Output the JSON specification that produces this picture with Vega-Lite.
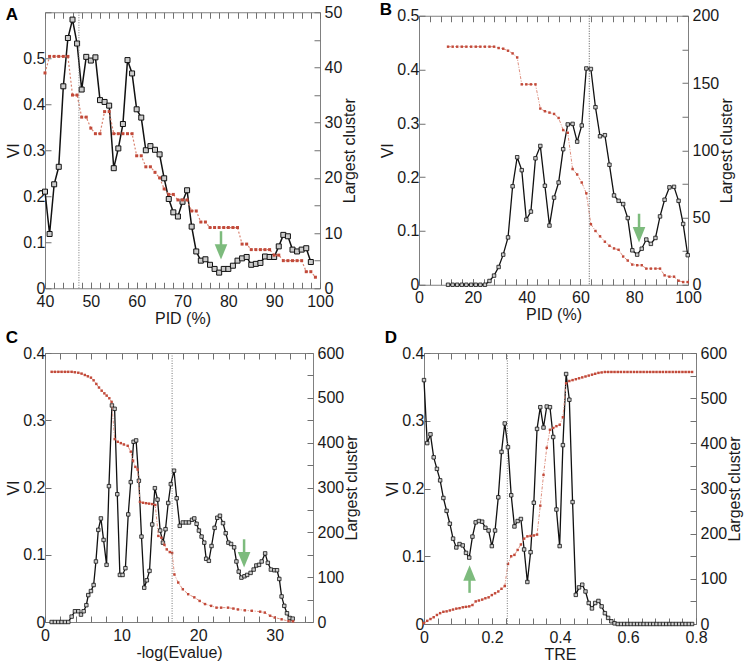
{
  "$schema": "https://vega.github.io/schema/vega-lite/v6.json",
  "padding": {"left": 5, "top": 0, "right": 0, "bottom": 0},
  "spacing": 1,
  "config": {
    "font": "Liberation Sans",
    "view": {"stroke": "#808080", "strokeWidth": 1},
    "axis": {"grid": false, "domain": false, "ticks": true, "tickColor": "#707070", "tickWidth": 1, "tickSize": 6, "labelFontSize": 16, "titleFontSize": 16, "titleFontWeight": "normal", "labelColor": "#1a1a1a", "titleColor": "#1a1a1a", "labelFlush": false, "labelOverlap": false, "labelBound": false, "labelPadding": 4, "titlePadding": 1},
    "title": {"fontSize": 17, "fontWeight": "bold", "anchor": "start", "frame": "bounds", "baseline": "alphabetic", "color": "#000"}
  },
  "datasets": {
    "A_vi": [
      {"x":40,"vi":0.210},{"x":41,"vi":0.118},{"x":42,"vi":0.226},{"x":43,"vi":0.264},{"x":44,"vi":0.439},{"x":45,"vi":0.544},{"x":46,"vi":0.584},{"x":47,"vi":0.532},{"x":48,"vi":0.432},{"x":49,"vi":0.503},
      {"x":50,"vi":0.495},{"x":51,"vi":0.502},{"x":52,"vi":0.409},{"x":53,"vi":0.405},{"x":54,"vi":0.397},{"x":55,"vi":0.261},{"x":56,"vi":0.304},{"x":57,"vi":0.357},{"x":58,"vi":0.496},{"x":59,"vi":0.467},
      {"x":60,"vi":0.389},{"x":61,"vi":0.371},{"x":62,"vi":0.300},{"x":63,"vi":0.309},{"x":64,"vi":0.301},{"x":65,"vi":0.291},{"x":66,"vi":0.239},{"x":67,"vi":0.194},{"x":68,"vi":0.165},{"x":69,"vi":0.156},
      {"x":70,"vi":0.188},{"x":71,"vi":0.213},{"x":72,"vi":0.134},{"x":73,"vi":0.080},{"x":74,"vi":0.060},{"x":75,"vi":0.063},{"x":76,"vi":0.051},{"x":77,"vi":0.042},{"x":78,"vi":0.034},{"x":79,"vi":0.042},
      {"x":80,"vi":0.042},{"x":81,"vi":0.049},{"x":82,"vi":0.060},{"x":83,"vi":0.065},{"x":84,"vi":0.068},{"x":85,"vi":0.051},{"x":86,"vi":0.053},{"x":87,"vi":0.055},{"x":88,"vi":0.069},{"x":89,"vi":0.068},
      {"x":90,"vi":0.068},{"x":91,"vi":0.091},{"x":92,"vi":0.116},{"x":93,"vi":0.113},{"x":94,"vi":0.084},{"x":95,"vi":0.080},{"x":96,"vi":0.084},{"x":97,"vi":0.087},{"x":98,"vi":0.057}
    ],
    "A_lc": [
      {"x":40,"lc":39},{"x":41,"lc":42},{"x":42,"lc":42},{"x":43,"lc":42},{"x":44,"lc":42},{"x":45,"lc":42},{"x":46,"lc":35},{"x":47,"lc":35},{"x":48,"lc":31},{"x":49,"lc":31},
      {"x":50,"lc":29},{"x":51,"lc":28},{"x":52,"lc":28},{"x":53,"lc":32},{"x":54,"lc":32},{"x":55,"lc":28},{"x":56,"lc":28},{"x":57,"lc":28},{"x":58,"lc":28},{"x":59,"lc":28},
      {"x":60,"lc":24},{"x":61,"lc":24},{"x":62,"lc":22},{"x":63,"lc":22},{"x":64,"lc":21},{"x":65,"lc":20},{"x":66,"lc":18},{"x":67,"lc":17},{"x":68,"lc":17},{"x":69,"lc":16},
      {"x":70,"lc":16},{"x":71,"lc":16},{"x":72,"lc":14},{"x":73,"lc":14},{"x":74,"lc":12},{"x":75,"lc":12},{"x":76,"lc":11},{"x":77,"lc":11},{"x":78,"lc":11},{"x":79,"lc":11},
      {"x":80,"lc":11},{"x":81,"lc":11},{"x":82,"lc":11},{"x":83,"lc":8},{"x":84,"lc":8},{"x":85,"lc":7},{"x":86,"lc":7},{"x":87,"lc":7},{"x":88,"lc":7},{"x":89,"lc":7},
      {"x":90,"lc":6},{"x":91,"lc":6},{"x":92,"lc":5},{"x":93,"lc":5},{"x":94,"lc":5},{"x":95,"lc":5},{"x":96,"lc":5},{"x":97,"lc":3},{"x":98,"lc":3},{"x":99,"lc":2}
    ],
    "B": [
      {"x":10.8,"vi":0,"lc":177},{"x":12.5,"vi":0,"lc":177},{"x":14.2,"vi":0,"lc":177},{"x":15.9,"vi":0,"lc":177},{"x":17.6,"vi":0,"lc":177},{"x":19.4,"vi":0,"lc":177},{"x":21.1,"vi":0,"lc":177},{"x":22.8,"vi":0,"lc":177},{"x":24.5,"vi":0,"lc":177},{"x":26.2,"vi":0.007,"lc":177},
      {"x":27.9,"vi":0.017,"lc":177},{"x":29.6,"vi":0.033,"lc":176},{"x":31.3,"vi":0.056,"lc":175.5},{"x":33.1,"vi":0.088,"lc":174},{"x":34.8,"vi":0.183,"lc":172},{"x":36.5,"vi":0.237,"lc":169},{"x":38.2,"vi":0.213,"lc":149},{"x":39.9,"vi":0.121,"lc":149},{"x":41.6,"vi":0.136,"lc":149},{"x":43.3,"vi":0.235,"lc":149},
      {"x":45.1,"vi":0.258,"lc":131},{"x":46.8,"vi":0.184,"lc":129},{"x":48.5,"vi":0.110,"lc":128},{"x":50.2,"vi":0.162,"lc":127},{"x":51.9,"vi":0.190,"lc":124},{"x":53.6,"vi":0.252,"lc":115},{"x":55.3,"vi":0.298,"lc":113},{"x":57.1,"vi":0.299,"lc":86},{"x":58.8,"vi":0.266,"lc":82},{"x":60.5,"vi":0.296,"lc":76},
      {"x":62.2,"vi":0.402,"lc":68},{"x":63.9,"vi":0.401,"lc":45},{"x":65.6,"vi":0.330,"lc":40},{"x":67.3,"vi":0.276,"lc":36},{"x":69.1,"vi":0.278,"lc":32},{"x":70.8,"vi":0.223,"lc":29},{"x":72.5,"vi":0.166,"lc":27},{"x":74.2,"vi":0.156,"lc":26},{"x":75.9,"vi":0.150,"lc":21},{"x":77.6,"vi":0.124,"lc":18},
      {"x":79.3,"vi":0.064,"lc":15},{"x":81.1,"vi":0.056,"lc":14.5},{"x":82.8,"vi":0.067,"lc":14.5},{"x":84.5,"vi":0.084,"lc":12},{"x":86.2,"vi":0.076,"lc":12},{"x":87.9,"vi":0.087,"lc":12},{"x":89.6,"vi":0.127,"lc":12},{"x":91.3,"vi":0.158,"lc":7},{"x":93.1,"vi":0.181,"lc":6},{"x":94.8,"vi":0.182,"lc":6},
      {"x":96.5,"vi":0.156,"lc":3},{"x":98.2,"vi":0.113,"lc":2},{"x":99.9,"vi":0.055,"lc":2}
    ],
    "C_vi": [
      {"x":0.87,"vi":0},{"x":1.3,"vi":0},{"x":1.74,"vi":0},{"x":2.17,"vi":0},{"x":2.61,"vi":0},{"x":3.04,"vi":0},{"x":3.48,"vi":0.008},{"x":3.91,"vi":0.016},{"x":4.35,"vi":0.016},{"x":4.7,"vi":0.011},
      {"x":5.05,"vi":0.016},{"x":5.4,"vi":0.025},{"x":5.65,"vi":0.040},{"x":6.0,"vi":0.046},{"x":6.35,"vi":0.055},{"x":6.65,"vi":0.090},{"x":6.96,"vi":0.137},{"x":7.3,"vi":0.154},{"x":7.65,"vi":0.122},{"x":8.04,"vi":0.085},
      {"x":8.35,"vi":0.202},{"x":8.74,"vi":0.322},{"x":9.09,"vi":0.317},{"x":9.44,"vi":0.190},{"x":9.78,"vi":0.070},{"x":10.13,"vi":0.070},{"x":10.5,"vi":0.080},{"x":10.87,"vi":0.160},{"x":11.2,"vi":0.208},{"x":11.57,"vi":0.268},
      {"x":11.9,"vi":0.270},{"x":12.26,"vi":0.210},{"x":12.6,"vi":0.127},{"x":12.96,"vi":0.051},{"x":13.3,"vi":0.062},{"x":13.65,"vi":0.076},{"x":14.0,"vi":0.145},{"x":14.35,"vi":0.199},{"x":14.7,"vi":0.182},{"x":15.04,"vi":0.136},
      {"x":15.4,"vi":0.118},{"x":15.74,"vi":0.138},{"x":16.09,"vi":0.177},{"x":16.43,"vi":0.205},{"x":16.85,"vi":0.225},{"x":17.2,"vi":0.184},{"x":17.6,"vi":0.143},{"x":18.0,"vi":0.148},{"x":18.4,"vi":0.148},{"x":18.8,"vi":0.148},
      {"x":19.2,"vi":0.152},{"x":19.5,"vi":0.154},{"x":19.8,"vi":0.146},{"x":20.1,"vi":0.136},{"x":20.45,"vi":0.127},{"x":20.8,"vi":0.118},{"x":21.05,"vi":0.094},{"x":21.4,"vi":0.091},{"x":21.75,"vi":0.113},{"x":22.15,"vi":0.140},
      {"x":22.5,"vi":0.155},{"x":22.85,"vi":0.158},{"x":23.25,"vi":0.147},{"x":23.6,"vi":0.132},{"x":23.95,"vi":0.118},{"x":24.3,"vi":0.116},{"x":24.7,"vi":0.111},{"x":25.0,"vi":0.090},{"x":25.3,"vi":0.075},{"x":25.65,"vi":0.066},
      {"x":26.05,"vi":0.068},{"x":26.4,"vi":0.070},{"x":26.85,"vi":0.073},{"x":27.25,"vi":0.078},{"x":27.6,"vi":0.084},{"x":27.95,"vi":0.085},{"x":28.3,"vi":0.090},{"x":28.75,"vi":0.102},{"x":29.1,"vi":0.088},{"x":29.5,"vi":0.078},
      {"x":29.95,"vi":0.077},{"x":30.3,"vi":0.077},{"x":30.6,"vi":0.064},{"x":30.9,"vi":0.038},{"x":31.25,"vi":0.024},{"x":31.6,"vi":0.013},{"x":31.95,"vi":0.006},{"x":32.35,"vi":0.005}
    ],
    "C_lc": [
      {"x":0.87,"lc":558},{"x":1.3,"lc":558},{"x":1.74,"lc":558},{"x":2.17,"lc":558},{"x":2.61,"lc":558},{"x":3.04,"lc":558},{"x":3.48,"lc":558},{"x":3.91,"lc":557},{"x":4.35,"lc":556},{"x":4.78,"lc":554},
      {"x":5.2,"lc":551},{"x":5.6,"lc":548},{"x":6.0,"lc":545},{"x":6.35,"lc":539},{"x":6.7,"lc":531},{"x":7.05,"lc":523},{"x":7.4,"lc":516},{"x":7.75,"lc":510},{"x":8.05,"lc":505},{"x":8.4,"lc":499},
      {"x":8.7,"lc":491},{"x":9.1,"lc":408},{"x":9.5,"lc":402},{"x":9.9,"lc":399},{"x":10.3,"lc":396},{"x":10.8,"lc":393},{"x":11.2,"lc":380},{"x":11.5,"lc":360},{"x":11.8,"lc":346},{"x":12.1,"lc":340},
      {"x":12.4,"lc":268},{"x":12.8,"lc":266},{"x":13.2,"lc":265},{"x":13.6,"lc":264},{"x":14.0,"lc":263},{"x":14.4,"lc":261},{"x":14.8,"lc":192},{"x":15.2,"lc":188},{"x":15.6,"lc":172},{"x":15.9,"lc":162},
      {"x":16.3,"lc":156},{"x":16.6,"lc":154},{"x":16.9,"lc":106},{"x":17.4,"lc":88},{"x":18.0,"lc":73},{"x":18.7,"lc":62},{"x":19.5,"lc":55},{"x":20.2,"lc":47},{"x":20.9,"lc":40},{"x":21.7,"lc":36},
      {"x":22.4,"lc":32},{"x":23.0,"lc":32},{"x":23.9,"lc":32},{"x":24.6,"lc":30},{"x":25.2,"lc":28},{"x":26.1,"lc":26},{"x":27.0,"lc":25},{"x":28.1,"lc":23},{"x":28.7,"lc":21},{"x":29.4,"lc":14},
      {"x":30.0,"lc":10},{"x":30.9,"lc":6},{"x":31.8,"lc":2},{"x":32.4,"lc":1.5}
    ],
    "D": [
      {"x":0,"vi":0.360,"lc":2},{"x":0.0095,"vi":0.267,"lc":7},{"x":0.019,"vi":0.280,"lc":11},{"x":0.0285,"vi":0.246,"lc":15},{"x":0.038,"vi":0.229,"lc":20},{"x":0.0475,"vi":0.212,"lc":24},{"x":0.057,"vi":0.186,"lc":27},{"x":0.0665,"vi":0.167,"lc":28},{"x":0.076,"vi":0.148,"lc":30},{"x":0.0855,"vi":0.126,"lc":32},
      {"x":0.095,"vi":0.113,"lc":34},{"x":0.1045,"vi":0.118,"lc":35},{"x":0.114,"vi":0.116,"lc":37},{"x":0.1235,"vi":0.105,"lc":38},{"x":0.133,"vi":0.098,"lc":39},{"x":0.1425,"vi":0.129,"lc":42},{"x":0.152,"vi":0.150,"lc":50},{"x":0.1615,"vi":0.152,"lc":52},{"x":0.171,"vi":0.151,"lc":54},{"x":0.1805,"vi":0.142,"lc":57},
      {"x":0.19,"vi":0.138,"lc":59},{"x":0.1995,"vi":0.115,"lc":64},{"x":0.209,"vi":0.138,"lc":68},{"x":0.2185,"vi":0.187,"lc":72},{"x":0.228,"vi":0.254,"lc":78},{"x":0.2375,"vi":0.296,"lc":84},{"x":0.247,"vi":0.261,"lc":133},{"x":0.2565,"vi":0.190,"lc":150},{"x":0.266,"vi":0.144,"lc":153},{"x":0.2755,"vi":0.152,"lc":164},
      {"x":0.285,"vi":0.155,"lc":176},{"x":0.2945,"vi":0.110,"lc":189},{"x":0.304,"vi":0.062,"lc":194},{"x":0.3135,"vi":0.106,"lc":195},{"x":0.323,"vi":0.179,"lc":196},{"x":0.3325,"vi":0.288,"lc":198},{"x":0.342,"vi":0.320,"lc":262},{"x":0.3515,"vi":0.290,"lc":330},{"x":0.361,"vi":0.321,"lc":390},{"x":0.3705,"vi":0.320,"lc":430},
      {"x":0.38,"vi":0.276,"lc":434},{"x":0.3895,"vi":0.169,"lc":438},{"x":0.399,"vi":0.115,"lc":441},{"x":0.4085,"vi":0.264,"lc":458},{"x":0.418,"vi":0.369,"lc":533},{"x":0.4275,"vi":0.331,"lc":538},{"x":0.437,"vi":0.180,"lc":540},{"x":0.4465,"vi":0.043,"lc":542},{"x":0.456,"vi":0.054,"lc":544},{"x":0.4655,"vi":0.058,"lc":546},
      {"x":0.475,"vi":0.048,"lc":548},{"x":0.4845,"vi":0.031,"lc":550},{"x":0.494,"vi":0.023,"lc":552},{"x":0.5035,"vi":0.031,"lc":554},{"x":0.513,"vi":0.034,"lc":556},{"x":0.5225,"vi":0.026,"lc":557},{"x":0.532,"vi":0.016,"lc":558},{"x":0.5415,"vi":0.009,"lc":558},{"x":0.551,"vi":0.004,"lc":558},{"x":0.5605,"vi":0.001,"lc":558},
      {"x":0.57,"vi":0,"lc":558},{"x":0.5795,"vi":0,"lc":558},{"x":0.589,"vi":0,"lc":558},{"x":0.5985,"vi":0,"lc":558},{"x":0.608,"vi":0,"lc":558},{"x":0.6175,"vi":0,"lc":558},{"x":0.627,"vi":0,"lc":558},{"x":0.6365,"vi":0,"lc":558},{"x":0.646,"vi":0,"lc":558},{"x":0.6555,"vi":0,"lc":558},
      {"x":0.665,"vi":0,"lc":558},{"x":0.6745,"vi":0,"lc":558},{"x":0.684,"vi":0,"lc":558},{"x":0.6935,"vi":0,"lc":558},{"x":0.703,"vi":0,"lc":558},{"x":0.7125,"vi":0,"lc":558},{"x":0.722,"vi":0,"lc":558},{"x":0.7315,"vi":0,"lc":558},{"x":0.741,"vi":0,"lc":558},{"x":0.7505,"vi":0,"lc":558},
      {"x":0.76,"vi":0,"lc":558},{"x":0.7695,"vi":0,"lc":558},{"x":0.779,"vi":0,"lc":558},{"x":0.7885,"vi":0,"lc":558}
    ]
  },
  "vconcat": [
    {
      "hconcat": [
        {
          "width": 275, "height": 276,
          "title": {"text": "A", "offset": -20},
          "layer": [
            {"layer": [
              {"data": {"name": "A_vi"},
               "mark": {"type": "line", "color": "#111", "strokeWidth": 1.5, "point": {"shape": "square", "size": 25, "filled": true, "fill": "#cccccc", "stroke": "#111", "strokeWidth": 1}},
               "encoding": {
                 "x": {"field": "x", "type": "quantitative", "scale": {"domain": [40, 100], "nice": false, "zero": false},
                   "axis": {"orient": "bottom", "offset": -6, "title": "PID (%)", "labelPadding": 5, "titlePadding": 1, "values": [40,50,60,70,80,90,100], "labelExpr": "format(datum.value, '.2~f')"}},
                 "y": {"field": "vi", "type": "quantitative", "scale": {"domain": [0, 0.6], "nice": false},
                   "axis": {"orient": "left", "offset": -6, "labelPadding": 0, "title": "VI", "values": [0,0.05,0.1,0.15,0.2,0.25,0.3,0.35,0.4,0.45,0.5,0.55,0.6],
                     "labelExpr": "abs(datum.value*10 - round(datum.value*10)) < 0.001 && datum.value < 0.55 ? format(datum.value, '.2~f') : ''"}}
               }},
              {"data": {"values": [{"x": 78.4, "top": 0.124, "base": 0.094}]}, "mark": {"type": "rule", "color": "#7dbb7d", "strokeWidth": 2.5}, "encoding": {"x": {"field": "x", "type": "quantitative"}, "y": {"field": "top", "type": "quantitative"}, "y2": {"field": "base"}}},
              {"data": {"values": [{"x": 78.4, "head": 0.079}]}, "mark": {"type": "point", "shape": "M-0.9,-1.1L0.9,-1.1L0,1.1Z", "size": 196, "filled": true, "color": "#7dbb7d", "opacity": 1}, "encoding": {"x": {"field": "x", "type": "quantitative"}, "y": {"field": "head", "type": "quantitative"}}}
            ]},
            {"data": {"name": "A_lc"},
             "mark": {"type": "line", "color": "#d9826f", "strokeWidth": 1.2, "strokeDash": [2, 2], "point": {"shape": "square", "size": 9, "filled": true, "color": "#c24a3a"}},
             "encoding": {
               "x": {"field": "x", "type": "quantitative", "scale": {"domain": [40, 100], "nice": false, "zero": false},
                 "axis": {"orient": "top", "offset": -6, "title": null, "labels": false, "values": [40,42,44,46,48,50,52,54,56,58,60,62,64,66,68,70,72,74,76,78,80,82,84,86,88,90,92,94,96,98,100]}},
               "y": {"field": "lc", "type": "quantitative", "scale": {"domain": [0, 50], "nice": false},
                 "axis": {"orient": "right", "offset": -6, "title": "Largest cluster", "titlePadding": 0, "titleAngle": 270, "titleBaseline": "top", "values": [0,5,10,15,20,25,30,35,40,45,50],
                   "labelExpr": "datum.value % 10 == 0 ? format(datum.value, '.2~f') : ''"}}
             }},
            {"data": {"values": [{"x": 47.4}]}, "mark": {"type": "rule", "color": "#777", "strokeDash": [1, 1.5], "strokeWidth": 1},
             "encoding": {"x": {"field": "x", "type": "quantitative", "scale": {"domain": [40, 100], "nice": false, "zero": false},
               "axis": {"orient": "bottom", "offset": -6, "title": null, "labels": false, "values": [40,42,44,46,48,50,52,54,56,58,60,62,64,66,68,70,72,74,76,78,80,82,84,86,88,90,92,94,96,98,100]}}}}
          ],
          "resolve": {"scale": {"y": "independent"}, "axis": {"x": "independent", "y": "independent"}}
        },
        {
          "width": 269, "height": 269,
          "title": {"text": "B", "offset": -11},
          "layer": [
            {"layer": [
              {"data": {"name": "B"},
               "mark": {"type": "line", "color": "#111", "strokeWidth": 1.3, "point": {"shape": "square", "size": 12, "filled": true, "fill": "#cccccc", "stroke": "#111", "strokeWidth": 0.8}},
               "encoding": {
                 "x": {"field": "x", "type": "quantitative", "scale": {"domain": [0, 100], "nice": false},
                   "axis": {"orient": "bottom", "offset": -6, "title": "PID (%)", "labelPadding": 5, "titlePadding": 1, "values": [0,20,40,60,80,100], "labelExpr": "format(datum.value, '.2~f')"}},
                 "y": {"field": "vi", "type": "quantitative", "scale": {"domain": [0, 0.5], "nice": false},
                   "axis": {"orient": "left", "offset": -6, "labelPadding": 0, "title": "VI", "values": [0,0.05,0.1,0.15,0.2,0.25,0.3,0.35,0.4,0.45,0.5],
                     "labelExpr": "abs(datum.value*10 - round(datum.value*10)) < 0.001 ? format(datum.value, '.2~f') : ''"}}
               }},
              {"data": {"values": [{"x": 81.8, "top": 0.132, "base": 0.106}]}, "mark": {"type": "rule", "color": "#7dbb7d", "strokeWidth": 2.5}, "encoding": {"x": {"field": "x", "type": "quantitative"}, "y": {"field": "top", "type": "quantitative"}, "y2": {"field": "base"}}},
              {"data": {"values": [{"x": 81.8, "head": 0.093}]}, "mark": {"type": "point", "shape": "M-0.9,-1.1L0.9,-1.1L0,1.1Z", "size": 196, "filled": true, "color": "#7dbb7d", "opacity": 1}, "encoding": {"x": {"field": "x", "type": "quantitative"}, "y": {"field": "head", "type": "quantitative"}}}
            ]},
            {"data": {"name": "B"},
             "mark": {"type": "line", "color": "#de9080", "strokeWidth": 1, "strokeDash": [3, 1.5, 1, 1.5], "point": {"shape": "square", "size": 6, "filled": true, "color": "#c24a3a"}},
             "encoding": {
               "x": {"field": "x", "type": "quantitative", "scale": {"domain": [0, 100], "nice": false},
                 "axis": {"orient": "top", "offset": -6, "title": null, "labels": false, "values": [0,4,8,12,16,20,24,28,32,36,40,44,48,52,56,60,64,68,72,76,80,84,88,92,96,100]}},
               "y": {"field": "lc", "type": "quantitative", "scale": {"domain": [0, 200], "nice": false},
                 "axis": {"orient": "right", "offset": -6, "title": "Largest cluster", "titlePadding": 0, "titleAngle": 270, "titleBaseline": "top", "values": [0,25,50,75,100,125,150,175,200],
                   "labelExpr": "datum.value % 50 == 0 ? format(datum.value, '.2~f') : ''"}}
             }},
            {"data": {"values": [{"x": 63.3}]}, "mark": {"type": "rule", "color": "#555", "strokeDash": [1, 1.5], "strokeWidth": 1},
             "encoding": {"x": {"field": "x", "type": "quantitative", "scale": {"domain": [0, 100], "nice": false},
               "axis": {"orient": "bottom", "offset": -6, "title": null, "labels": false, "values": [0,4,8,12,16,20,24,28,32,36,40,44,48,52,56,60,64,68,72,76,80,84,88,92,96,100]}}}}
          ],
          "resolve": {"scale": {"y": "independent"}, "axis": {"x": "independent", "y": "independent"}}
        }
      ],
      "spacing": 20,
      "center": true
    },
    {
      "hconcat": [
        {
          "width": 268, "height": 269,
          "title": {"text": "C", "offset": -2},
          "layer": [
            {"layer": [
              {"data": {"name": "C_vi"},
               "mark": {"type": "line", "color": "#111", "strokeWidth": 1.3, "point": {"shape": "square", "size": 12, "filled": true, "fill": "#cccccc", "stroke": "#111", "strokeWidth": 0.8}},
               "encoding": {
                 "x": {"field": "x", "type": "quantitative", "scale": {"domain": [0, 35], "nice": false},
                   "axis": {"orient": "bottom", "offset": -6, "title": "-log(Evalue)", "labelPadding": 5, "titlePadding": 1, "values": [0,10,20,30], "labelExpr": "format(datum.value, '.2~f')"}},
                 "y": {"field": "vi", "type": "quantitative", "scale": {"domain": [0, 0.4], "nice": false},
                   "axis": {"orient": "left", "offset": -6, "labelPadding": 0, "title": "VI", "values": [0,0.05,0.1,0.15,0.2,0.25,0.3,0.35,0.4],
                     "labelExpr": "abs(datum.value*10 - round(datum.value*10)) < 0.001 ? format(datum.value, '.2~f') : ''"}}
               }},
              {"data": {"values": [{"x": 26.0, "top": 0.123, "base": 0.102}]}, "mark": {"type": "rule", "color": "#7dbb7d", "strokeWidth": 2.5}, "encoding": {"x": {"field": "x", "type": "quantitative"}, "y": {"field": "top", "type": "quantitative"}, "y2": {"field": "base"}}},
              {"data": {"values": [{"x": 26.0, "head": 0.0925}]}, "mark": {"type": "point", "shape": "M-0.9,-1.1L0.9,-1.1L0,1.1Z", "size": 196, "filled": true, "color": "#7dbb7d", "opacity": 1}, "encoding": {"x": {"field": "x", "type": "quantitative"}, "y": {"field": "head", "type": "quantitative"}}}
            ]},
            {"data": {"name": "C_lc"},
             "mark": {"type": "line", "color": "#de9080", "strokeWidth": 1, "strokeDash": [3, 1.5, 1, 1.5], "point": {"shape": "square", "size": 6, "filled": true, "color": "#c24a3a"}},
             "encoding": {
               "x": {"field": "x", "type": "quantitative", "scale": {"domain": [0, 35], "nice": false},
                 "axis": {"orient": "top", "offset": -6, "title": null, "labels": false, "values": [0,2,4,6,8,10,12,14,16,18,20,22,24,26,28,30,32,34]}},
               "y": {"field": "lc", "type": "quantitative", "scale": {"domain": [0, 600], "nice": false},
                 "axis": {"orient": "right", "offset": -6, "title": "Largest cluster", "titlePadding": 0, "titleAngle": 270, "titleBaseline": "top", "values": [0,50,100,150,200,250,300,350,400,450,500,550,600],
                   "labelExpr": "datum.value % 100 == 0 ? format(datum.value, '.2~f') : ''"}}
             }},
            {"data": {"values": [{"x": 16.6}]}, "mark": {"type": "rule", "color": "#777", "strokeDash": [1, 1.5], "strokeWidth": 1},
             "encoding": {"x": {"field": "x", "type": "quantitative", "scale": {"domain": [0, 35], "nice": false},
               "axis": {"orient": "bottom", "offset": -6, "title": null, "labels": false, "values": [0,2,4,6,8,10,12,14,16,18,20,22,24,26,28,30,32,34]}}}}
          ],
          "resolve": {"scale": {"y": "independent"}, "axis": {"x": "independent", "y": "independent"}}
        },
        {
          "width": 272, "height": 271,
          "title": {"text": "D", "offset": -2},
          "layer": [
            {"layer": [
              {"data": {"name": "D"},
               "mark": {"type": "line", "color": "#111", "strokeWidth": 1.3, "point": {"shape": "square", "size": 12, "filled": true, "fill": "#cccccc", "stroke": "#111", "strokeWidth": 0.8}},
               "encoding": {
                 "x": {"field": "x", "type": "quantitative", "scale": {"domain": [0, 0.8], "nice": false},
                   "axis": {"orient": "bottom", "offset": -6, "title": "TRE", "labelPadding": 5, "titlePadding": 1, "values": [0,0.2,0.4,0.6,0.8], "labelExpr": "format(datum.value, '.2~f')"}},
                 "y": {"field": "vi", "type": "quantitative", "scale": {"domain": [0, 0.4], "nice": false},
                   "axis": {"orient": "left", "offset": -6, "labelPadding": 0, "title": "VI", "values": [0,0.05,0.1,0.15,0.2,0.25,0.3,0.35,0.4],
                     "labelExpr": "abs(datum.value*10 - round(datum.value*10)) < 0.001 ? format(datum.value, '.2~f') : ''"}}
               }},
              {"data": {"values": [{"x": 0.134, "top": 0.066, "base": 0.046}]}, "mark": {"type": "rule", "color": "#7dbb7d", "strokeWidth": 2.5}, "encoding": {"x": {"field": "x", "type": "quantitative"}, "y": {"field": "top", "type": "quantitative"}, "y2": {"field": "base"}}},
              {"data": {"values": [{"x": 0.134, "head": 0.0752}]}, "mark": {"type": "point", "shape": "M-0.9,1.1L0.9,1.1L0,-1.1Z", "size": 196, "filled": true, "color": "#7dbb7d", "opacity": 1}, "encoding": {"x": {"field": "x", "type": "quantitative"}, "y": {"field": "head", "type": "quantitative"}}}
            ]},
            {"data": {"name": "D"},
             "mark": {"type": "line", "color": "#de9080", "strokeWidth": 1, "strokeDash": [3, 1.5, 1, 1.5], "point": {"shape": "square", "size": 6, "filled": true, "color": "#c24a3a"}},
             "encoding": {
               "x": {"field": "x", "type": "quantitative", "scale": {"domain": [0, 0.8], "nice": false},
                 "axis": {"orient": "top", "offset": -6, "title": null, "labels": false, "values": [0,0.04,0.08,0.12,0.16,0.2,0.24,0.28,0.32,0.36,0.4,0.44,0.48,0.52,0.56,0.6,0.64,0.68,0.72,0.76,0.8]}},
               "y": {"field": "lc", "type": "quantitative", "scale": {"domain": [0, 600], "nice": false},
                 "axis": {"orient": "right", "offset": -6, "title": "Largest cluster", "titlePadding": 0, "titleAngle": 270, "titleBaseline": "top", "values": [0,50,100,150,200,250,300,350,400,450,500,550,600],
                   "labelExpr": "datum.value % 100 == 0 ? format(datum.value, '.2~f') : ''"}}
             }},
            {"data": {"values": [{"x": 0.245}]}, "mark": {"type": "rule", "color": "#777", "strokeDash": [1, 1.5], "strokeWidth": 1},
             "encoding": {"x": {"field": "x", "type": "quantitative", "scale": {"domain": [0, 0.8], "nice": false},
               "axis": {"orient": "bottom", "offset": -6, "title": null, "labels": false, "values": [0,0.04,0.08,0.12,0.16,0.2,0.24,0.28,0.32,0.36,0.4,0.44,0.48,0.52,0.56,0.6,0.64,0.68,0.72,0.76,0.8]}}}}
          ],
          "resolve": {"scale": {"y": "independent"}, "axis": {"x": "independent", "y": "independent"}}
        }
      ],
      "spacing": 23
    }
  ]
}
